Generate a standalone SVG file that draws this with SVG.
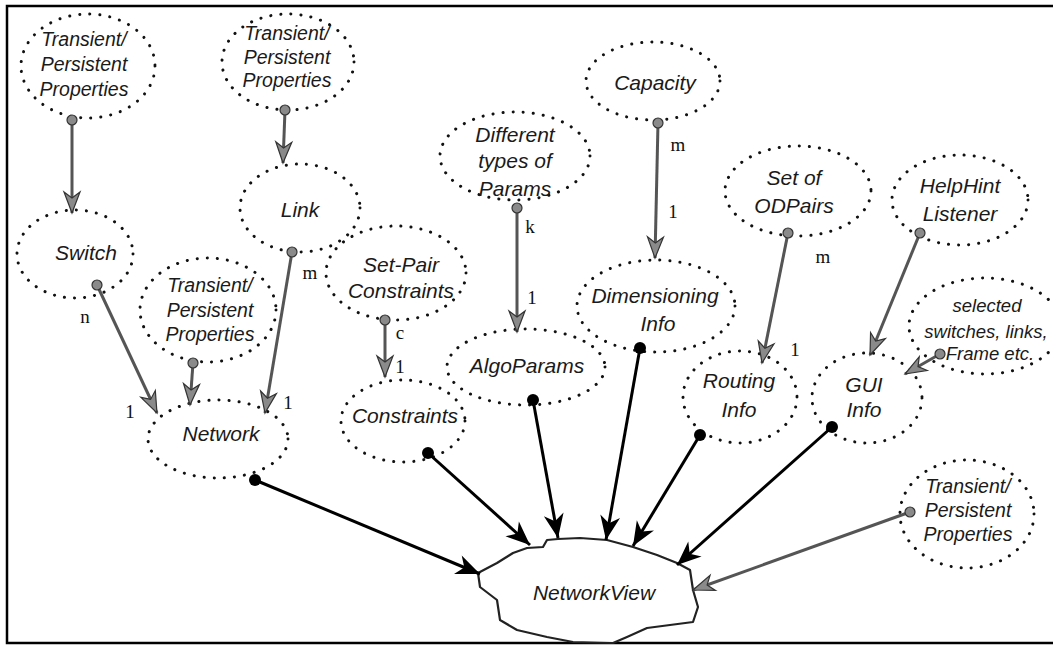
<svg xmlns="http://www.w3.org/2000/svg" width="1053" height="646" viewBox="0 0 1053 646">
<style>
.n ellipse{fill:none;stroke:#111;stroke-width:3;stroke-linecap:round;stroke-dasharray:0.1 10}
.t{font-family:"Liberation Sans",Arial,sans-serif;font-style:italic;font-size:21px;fill:#1a1a1a;text-anchor:middle}
.s{font-size:19.5px}
.xs{font-size:18.5px}
.lb{font-family:"Liberation Serif","Times New Roman",serif;font-size:19px;fill:#111;text-anchor:middle}
.g{stroke:#555;stroke-width:3;fill:none;marker-start:url(#gd);marker-end:url(#ga)}
.b{stroke:#000;stroke-width:3;fill:none;marker-start:url(#bd);marker-end:url(#ba)}
</style>
<defs>
<marker id="ga" markerUnits="userSpaceOnUse" markerWidth="28" markerHeight="24" viewBox="-26 -12 28 24" refX="0" refY="0" orient="auto">
<path d="M0,0 L-21,-8 L-15,0 L-21,8 Z" fill="#8a8a8a" stroke="#333" stroke-width="1.2"/>
</marker>
<marker id="gd" markerUnits="userSpaceOnUse" markerWidth="14" markerHeight="14" viewBox="-7 -7 14 14" refX="0" refY="0">
<circle r="5" fill="#8a8a8a" stroke="#333" stroke-width="1.2"/>
</marker>
<marker id="ba" markerUnits="userSpaceOnUse" markerWidth="28" markerHeight="24" viewBox="-26 -12 28 24" refX="0" refY="0" orient="auto">
<path d="M0,0 L-24,-10 L-17,0 L-24,10 Z" fill="#000"/>
</marker>
<marker id="bd" markerUnits="userSpaceOnUse" markerWidth="16" markerHeight="16" viewBox="-8 -8 16 16" refX="0" refY="0">
<circle r="6" fill="#000"/>
</marker>
</defs>
<rect width="1053" height="646" fill="#fff"/>
<g id="frame" stroke="#000" stroke-width="2.5" fill="none">
<polyline points="1053,6 7,6 7,643 1053,643"/>
</g>
<g id="tpp1" class="n"><ellipse cx="88" cy="66" rx="67" ry="52"/>
<text class="t s" x="84"><tspan x="84" y="46">Transient/</tspan><tspan x="84" y="71">Persistent</tspan><tspan x="84" y="96">Properties</tspan></text></g>
<g id="tpp2" class="n"><ellipse cx="288" cy="62" rx="66" ry="48"/>
<text class="t s"><tspan x="287" y="40">Transient/</tspan><tspan x="287" y="64">Persistent</tspan><tspan x="287" y="87">Properties</tspan></text></g>
<g id="switch" class="n"><ellipse cx="75" cy="254" rx="58" ry="44"/>
<text class="t" x="86" y="260">Switch</text></g>
<g id="link" class="n"><ellipse cx="300" cy="208" rx="60" ry="44"/>
<text class="t" x="300" y="217">Link</text></g>
<g id="tpp3" class="n"><ellipse cx="208" cy="310" rx="68" ry="52"/>
<text class="t s"><tspan x="210" y="292">Transient/</tspan><tspan x="210" y="317">Persistent</tspan><tspan x="210" y="341">Properties</tspan></text></g>
<g id="network" class="n"><ellipse cx="218" cy="439" rx="70" ry="39"/>
<text class="t" x="221" y="441">Network</text></g>
<g id="setpair" class="n"><ellipse cx="396" cy="273" rx="70" ry="47"/>
<text class="t"><tspan x="401" y="272">Set-Pair</tspan><tspan x="401" y="298">Constraints</tspan></text></g>
<g id="constraints" class="n"><ellipse cx="403" cy="421" rx="62" ry="41"/>
<text class="t" x="405" y="423">Constraints</text></g>
<g id="difftypes" class="n"><ellipse cx="515" cy="156" rx="75" ry="44"/>
<text class="t"><tspan x="515" y="142">Different</tspan><tspan x="515" y="168">types of</tspan><tspan x="515" y="196">Params</tspan></text></g>
<g id="capacity" class="n"><ellipse cx="653" cy="81" rx="67" ry="39"/>
<text class="t" x="655" y="90">Capacity</text></g>
<g id="algoparams" class="n"><ellipse cx="526" cy="367" rx="79" ry="38"/>
<text class="t" x="527" y="373">AlgoParams</text></g>
<g id="dimensioning" class="n"><ellipse cx="656" cy="306" rx="79" ry="46"/>
<text class="t"><tspan x="655" y="303">Dimensioning</tspan><tspan x="658" y="331">Info</tspan></text></g>
<g id="odpairs" class="n"><ellipse cx="798" cy="191" rx="73" ry="45"/>
<text class="t"><tspan x="794" y="185">Set of</tspan><tspan x="794" y="213">ODPairs</tspan></text></g>
<g id="helphint" class="n"><ellipse cx="960" cy="200" rx="68" ry="45"/>
<text class="t"><tspan x="960" y="193">HelpHint</tspan><tspan x="960" y="221">Listener</tspan></text></g>
<g id="selected" class="n"><ellipse cx="985" cy="326" rx="76" ry="48"/>
<text class="t xs"><tspan x="987" y="312">selected</tspan><tspan x="986" y="338">switches, links,</tspan><tspan x="990" y="360">Frame etc.</tspan></text></g>
<g id="routing" class="n"><ellipse cx="740" cy="397" rx="57" ry="46"/>
<text class="t"><tspan x="739" y="388">Routing</tspan><tspan x="739" y="417">Info</tspan></text></g>
<g id="gui" class="n"><ellipse cx="867" cy="398" rx="55" ry="45"/>
<text class="t"><tspan x="864" y="392">GUI</tspan><tspan x="864" y="417">Info</tspan></text></g>
<g id="tpp4" class="n"><ellipse cx="967" cy="514" rx="67" ry="54"/>
<text class="t s"><tspan x="968" y="493">Transient/</tspan><tspan x="968" y="517">Persistent</tspan><tspan x="968" y="541">Properties</tspan></text></g>
<g id="networkview">
<path d="M478,573 L480,587 L497,600 L500,620 L517,630 L547,637 L573,642 L613,643 L627,637 L647,628 L693,622 L698,607 L693,590 L690,570 L677,563 L657,555 L633,547 L607,540 L580,538 L558,539 L547,540 L543,547 L527,548 L513,553 L497,563 Z" fill="#fff" stroke="#222" stroke-width="2.2" stroke-linejoin="round"/>
<text class="t" x="594" y="600">NetworkView</text></g>
<g id="connectors">
<line class="g" x1="72" y1="120" x2="72" y2="213"/>
<line class="g" x1="285" y1="110" x2="283" y2="163"/>
<line class="g" x1="97" y1="285" x2="157" y2="413"/>
<line class="g" x1="193" y1="363" x2="190" y2="405"/>
<line class="g" x1="292" y1="252" x2="265" y2="413"/>
<line class="g" x1="385" y1="320" x2="385" y2="377"/>
<line class="g" x1="517" y1="208" x2="517" y2="332"/>
<line class="g" x1="658" y1="123" x2="655" y2="258"/>
<line class="g" x1="788" y1="233" x2="762" y2="363"/>
<line class="g" x1="920" y1="233" x2="870" y2="355"/>
<line class="g" x1="940" y1="354" x2="905" y2="374"/>
<line class="g" x1="910" y1="512" x2="693" y2="590"/>
<line class="b" x1="255" y1="480" x2="480" y2="574"/>
<line class="b" x1="428" y1="453" x2="530" y2="545"/>
<line class="b" x1="533" y1="400" x2="558" y2="538"/>
<line class="b" x1="640" y1="348" x2="606" y2="540"/>
<line class="b" x1="700" y1="435" x2="633" y2="546"/>
<line class="b" x1="832" y1="427" x2="677" y2="565"/>
<text class="lb" x="85" y="323">n</text>
<text class="lb" x="130" y="418">1</text>
<text class="lb" x="310" y="279">m</text>
<text class="lb" x="288" y="409">1</text>
<text class="lb" x="400" y="339">c</text>
<text class="lb" x="400" y="373">1</text>
<text class="lb" x="530" y="233">k</text>
<text class="lb" x="532" y="304">1</text>
<text class="lb" x="678" y="151">m</text>
<text class="lb" x="673" y="218">1</text>
<text class="lb" x="823" y="263">m</text>
<text class="lb" x="795" y="356">1</text>
</g>
</svg>
